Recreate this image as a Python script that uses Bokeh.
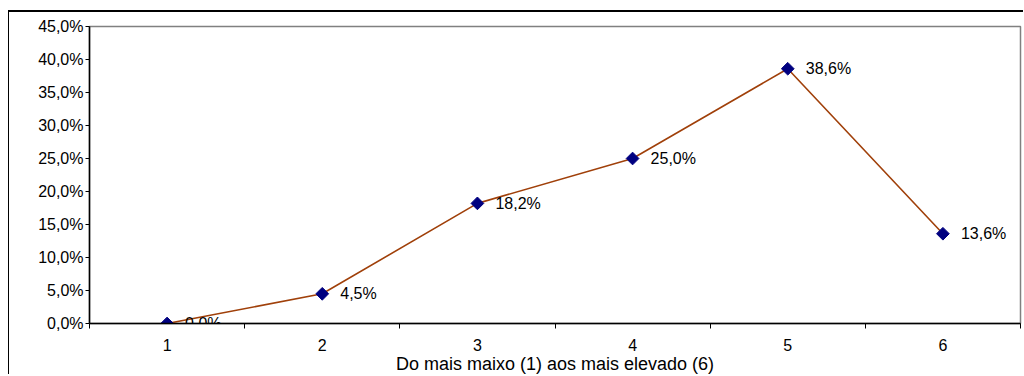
from bokeh.plotting import figure
from bokeh.models import Range1d, FixedTicker, ColumnDataSource, LabelSet
from bokeh.core.properties import value
from bokeh.embed import file_html
from bokeh.resources import INLINE
import math

categories = [1, 2, 3, 4, 5, 6]
values = [0.0, 4.5, 18.2, 25.0, 38.6, 13.6]
point_labels = ["0,0%", "4,5%", "18,2%", "25,0%", "38,6%", "13,6%"]
y_ticks = [0, 5, 10, 15, 20, 25, 30, 35, 40, 45]
y_tick_labels = ["0,0%", "5,0%", "10,0%", "15,0%", "20,0%", "25,0%", "30,0%", "35,0%", "40,0%", "45,0%"]
x_title = "Do mais maixo (1) aos mais elevado (6)"

FONT = "Liberation Sans"

p = figure(width=1015, height=364, output_backend="svg", toolbar_location=None,
           x_range=Range1d(0.5, 6.5), y_range=Range1d(0, 45),
           min_border_left=80, min_border_right=4, min_border_top=14, min_border_bottom=51)

p.styles = {"margin-left": "8px", "margin-top": "10px",
            "border-top": "2px solid black", "border-left": "1px solid black"}

p.xgrid.visible = False
p.ygrid.visible = False
p.outline_line_color = "#808080"
p.outline_line_width = 1.5
p.background_fill_color = "white"
p.border_fill_color = "white"

# x axis
p.xaxis.ticker = FixedTicker(ticks=categories, minor_ticks=[0.5, 1.5, 2.5, 3.5, 4.5, 5.5, 6.5])
p.xaxis.major_tick_out = 0
p.xaxis.major_tick_in = 0
p.xaxis.minor_tick_out = 5
p.xaxis.minor_tick_in = 0
p.xaxis.minor_tick_line_color = "black"
p.xaxis.axis_line_color = "black"
p.xaxis.axis_line_width = 1.5
p.xaxis.major_label_standoff = 10
p.xaxis.major_label_text_font = FONT
p.xaxis.major_label_text_font_size = "16px"
p.xaxis.major_label_text_color = "black"
p.xaxis.axis_label = x_title
p.xaxis.axis_label_text_font = FONT
p.xaxis.axis_label_text_font_size = "18px"
p.xaxis.axis_label_text_font_style = "normal"
p.xaxis.axis_label_text_color = "black"
p.xaxis.axis_label_standoff = 0

# y axis
p.yaxis.ticker = FixedTicker(ticks=y_ticks, minor_ticks=[])
p.yaxis.major_label_overrides = {t: l for t, l in zip(y_ticks, y_tick_labels)}
p.yaxis.major_tick_out = 4
p.yaxis.major_tick_in = 0
p.yaxis.major_tick_line_color = "black"
p.yaxis.axis_line_color = "black"
p.yaxis.axis_line_width = 1.5
p.yaxis.major_label_standoff = 2
p.yaxis.major_label_text_font = FONT
p.yaxis.major_label_text_font_size = "16px"
p.yaxis.major_label_text_color = "black"

src = ColumnDataSource(dict(x=categories, y=values, lab=point_labels))

p.line("x", "y", source=src, line_color="#A0400A", line_width=1.6)
p.scatter("x", "y", source=src, marker="square", size=9, angle=math.pi / 4,
          fill_color="#000080", line_color="#000080")

labels = LabelSet(x="x", y="y", text="lab", source=src, x_offset=18, y_offset=0,
                  text_baseline="middle", text_align="left",
                  text_font=value(FONT), text_font_size="16px", text_color="black")
p.add_layout(labels)

open("out.html", "w").write(file_html(p, INLINE))
